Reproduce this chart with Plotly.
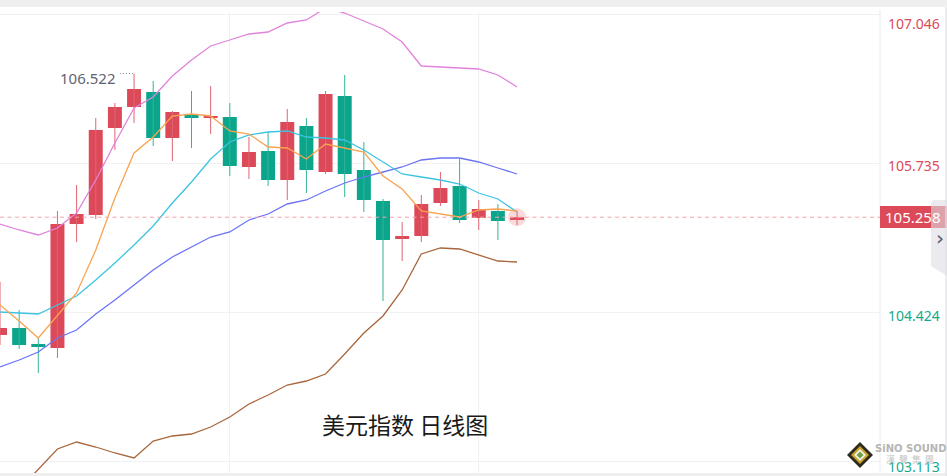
import plotly.graph_objects as go

# ---------------- data ----------------
idx = list(range(28))
open_ = [104.2216, 104.2832, 104.1424, 104.1072, 105.1983, 105.2775, 106.0430, 106.2277,
         106.3597, 105.9550, 106.1661, 106.1309, 106.1397, 105.6998, 105.8406, 105.5854,
         106.0606, 105.6558, 106.3245, 105.6734, 105.4007, 105.0663, 105.0927, 105.3831,
         105.5326, 105.2511, 105.3127, 105.2335]
high = [104.6880, 104.4416, 104.2040, 105.3127, 105.5414, 106.1309, 106.2629, 106.522,
        106.4565, 106.1925, 106.3685, 106.4125, 106.2629, 105.9638, 106.0078, 106.2101,
        106.1309, 106.3685, 106.5093, 105.9198, 105.4183, 105.2159, 105.4534, 105.6558,
        105.7702, 105.4095, 105.3743, 105.3127]
low = [104.1336, 104.0984, 103.8873, 104.0193, 105.0399, 105.2423, 105.8494, 106.0870,
       105.8846, 105.7526, 105.8670, 105.9902, 105.6206, 105.5942, 105.5326, 105.4095,
       105.4710, 105.6382, 105.4359, 105.3039, 104.5208, 104.8727, 105.0399, 105.3567,
       105.2071, 105.1455, 105.0575, 105.1895]
close = [104.2832, 104.1336, 104.1160, 105.1983, 105.2863, 106.0254, 106.2277, 106.3861,
         105.9550, 106.1837, 106.1309, 106.1485, 105.7086, 105.8318, 105.5854, 106.0958,
         105.6734, 106.3421, 105.6382, 105.4095, 105.0575, 105.0927, 105.3743, 105.5150,
         105.2335, 105.3303, 105.2247, 105.258]

ma5 = [104.4856, 104.3448, 104.1952, 104.3888, 104.5912, 104.9695, 105.4271, 105.8230,
       105.9638, 106.1485, 106.1661, 106.1485, 106.0166, 105.9902, 105.8758, 105.8670,
       105.7702, 105.9022, 105.8670, 105.8318, 105.6206, 105.5062, 105.3127, 105.2863,
       105.2599, 105.3215, 105.3303, 105.3127]
ma10 = [104.4240, 104.4152, 104.4064, 104.4856, 104.5648, 104.7056, 104.8551, 105.0135,
        105.1807, 105.3831, 105.5678, 105.7702, 105.9198, 105.9814, 106.0078, 106.0166,
        105.9638, 105.9550, 105.9374, 105.8494, 105.7438, 105.6382, 105.6118, 105.5854,
        105.5502, 105.4710, 105.4183, 105.3039]
boll_mid = [103.9401, 104.0017, 104.0720, 104.1952, 104.2656, 104.4064, 104.5296, 104.6616,
            104.7935, 104.9079, 104.9959, 105.0839, 105.1279, 105.2335, 105.2863, 105.3743,
            105.4095, 105.4886, 105.5590, 105.6118, 105.6558, 105.6998, 105.7614, 105.7790,
            105.7790, 105.7438, 105.6910, 105.6382]
boll_up = [105.1983, 105.1455, 105.1015, 105.1631, 105.2951, 105.5854, 105.9110, 106.2189,
           106.3157, 106.5005, 106.6413, 106.7645, 106.8172, 106.8700, 106.8876, 106.9668,
           106.9932, 107.0988, 107.0548, 106.9844, 106.9140, 106.7996, 106.5885, 106.5797,
           106.5709, 106.5621, 106.5093, 106.4037]
boll_low = [102.6819, 102.8578, 103.0426, 103.2186, 103.2802, 103.2362, 103.1834, 103.1394,
            103.2890, 103.3330, 103.3506, 103.4121, 103.5001, 103.6145, 103.6937, 103.7817,
            103.8169, 103.8785, 104.0545, 104.2392, 104.3888, 104.6176, 104.9343, 104.9871,
            104.9783, 104.9255, 104.8727, 104.8639]

tick_vals = [107.046, 105.735, 104.424, 103.113]
tick_text = ["107.046", "105.735", "104.424", "103.113"]
high_label = "106.522"
title_text = "美元指数 日线图"

# ---------------- styling ----------------
RED = "#DC4A59"
GREEN = "#0BA58C"
RED_WICK = "#E06470"
GREEN_WICK = "#33B49A"
W, H = 947, 476
PL, PR, PT, PB = 0, 67, 12, 3
PW = W - PL - PR          # 880
PH = H - PT - PB          # 461


def pxx(x):
    return (x - PL) / PW


def pxy(y):
    return (H - PB - y) / PH


fig = go.Figure()

# wicks
for col, wc in ((RED, RED_WICK), (GREEN, GREEN_WICK)):
    xs, ys = [], []
    for i in idx:
        up = close[i] >= open_[i]
        if (col == RED) == up:
            xs += [i, i, None]
            ys += [low[i], high[i], None]
    fig.add_trace(go.Scatter(x=xs, y=ys, mode="lines", line=dict(color=wc, width=1),
                             hoverinfo="skip", showlegend=False))

# bodies
fig.add_trace(go.Bar(
    x=idx,
    y=[abs(c - o) for o, c in zip(open_, close)],
    base=[min(o, c) for o, c in zip(open_, close)],
    width=0.73,
    marker=dict(color=[RED if c >= o else GREEN for o, c in zip(open_, close)],
                line=dict(width=0)),
    hoverinfo="skip", showlegend=False))

# glow on last candle
fig.add_trace(go.Scatter(x=[idx[-1]], y=[close[-1]], mode="markers",
                         marker=dict(size=18, color="rgba(230,90,100,0.22)"),
                         hoverinfo="skip", showlegend=False))

# indicator lines
for series, col in ((boll_up, "#E083DB"), (boll_low, "#A8663C"), (boll_mid, "#6B74F5"),
                    (ma10, "#3CC4E0"), (ma5, "#F9A350")):
    fig.add_trace(go.Scatter(x=idx, y=series, mode="lines",
                             line=dict(color=col, width=1.3),
                             hoverinfo="skip", showlegend=False))

ymin, ymax = 103.0074, 107.0636
spacing = 19.15

shapes = []
# top / bottom grey bands
shapes.append(dict(type="rect", xref="paper", yref="paper", x0=pxx(0), x1=pxx(W),
                   y0=pxy(7), y1=pxy(0), fillcolor="#EFEFEF", line=dict(width=0), layer="below"))
shapes.append(dict(type="rect", xref="paper", yref="paper", x0=pxx(0), x1=pxx(W),
                   y0=pxy(H), y1=pxy(H - 3), fillcolor="#EFEFEF", line=dict(width=0), layer="below"))
# right plot border
shapes.append(dict(type="line", xref="paper", yref="paper", x0=1, x1=1, y0=0, y1=pxy(10),
                   line=dict(color="#EAEAEA", width=1)))
# current price dashed line
shapes.append(dict(type="line", xref="paper", yref="y", x0=0, x1=1, y0=close[-1], y1=close[-1],
                   line=dict(color="#F2A3AC", width=1, dash="4px,3.5px")))
# high marker dotted line
shapes.append(dict(type="line", xref="paper", yref="y", x0=pxx(120), x1=pxx(133),
                   y0=high[7], y1=high[7], line=dict(color="#8A8F9C", width=1, dash="1px,2px")))
# current price box
shapes.append(dict(type="rect", xref="paper", yref="paper", x0=1, x1=pxx(W),
                   y0=pxy(228), y1=pxy(206), fillcolor=RED, line=dict(width=0)))
# side tab
shapes.append(dict(type="path", xref="paper", yref="paper",
                   path=f"M {pxx(933)},{pxy(200)} L {pxx(W)},{pxy(200)} L {pxx(W)},{pxy(276)} "
                        f"L {pxx(931)},{pxy(266)} L {pxx(931)},{pxy(203)} Z",
                   fillcolor="rgba(222,222,228,0.6)", line=dict(width=0)))
# right thin edge
shapes.append(dict(type="rect", xref="paper", yref="paper", x0=pxx(945), x1=pxx(W),
                   y0=pxy(H), y1=pxy(7), fillcolor="rgba(225,225,228,0.6)", line=dict(width=0)))
# logo diamond
cx, cy = 860, 455
for r, colr in ((13, "#2E2A1E"), (9, "#C9A22C"), (6, "#F3F1E6"), (3.5, "#6FA046")):
    shapes.append(dict(type="path", xref="paper", yref="paper",
                       path=f"M {pxx(cx)},{pxy(cy - r)} L {pxx(cx + r)},{pxy(cy)} "
                            f"L {pxx(cx)},{pxy(cy + r)} L {pxx(cx - r)},{pxy(cy)} Z",
                       fillcolor=colr, line=dict(width=0)))

annotations = []
for v, t in zip(tick_vals, tick_text):
    col = RED if v > close[-1] else "#14A98D"
    shift = {107.046: -9, 105.735: -2, 104.424: -3, 103.113: -5}[v]
    annotations.append(dict(xref="paper", yref="y", x=pxx(942), y=v, text=t, showarrow=False,
                            xanchor="right", yanchor="middle", yshift=shift,
                            font=dict(family="Noto Sans", size=14, color=col)))
annotations.append(dict(xref="paper", yref="paper", x=pxx(943), y=pxy(217),
                        text=f"{close[-1]:.3f}", showarrow=False, xanchor="right",
                        yanchor="middle", font=dict(family="Noto Sans", size=15, color="white")))
annotations.append(dict(xref="paper", yref="paper", x=pxx(940), y=pxy(238), text="›",
                        showarrow=False, xanchor="center", yanchor="middle",
                        font=dict(family="DejaVu Sans", size=20, color="#555B66")))
annotations.append(dict(xref="paper", yref="y", x=pxx(118), y=high[7], text=high_label,
                        showarrow=False, xanchor="right", yanchor="middle", yshift=-4,
                        font=dict(family="Noto Sans", size=15, color="#5F6473")))
annotations.append(dict(xref="paper", yref="paper", x=pxx(405), y=pxy(424), text=title_text,
                        showarrow=False, xanchor="center", yanchor="middle",
                        font=dict(family="Noto Sans CJK SC", size=23, color="#1A1A1A")))
annotations.append(dict(xref="paper", yref="paper", x=pxx(910), y=pxy(448), text="<b>SiNO SOUND</b>",
                        showarrow=False, xanchor="center", yanchor="middle",
                        font=dict(family="DejaVu Sans", size=10, color="#B5B5B5")))
annotations.append(dict(xref="paper", yref="paper", x=pxx(910), y=pxy(459), text="漢  聲  集  團",
                        showarrow=False, xanchor="center", yanchor="middle",
                        font=dict(family="Noto Sans CJK TC", size=9, color="#C4C4C4")))

fig.update_layout(
    width=W, height=H,
    margin=dict(l=PL, r=PR, t=PT, b=PB, pad=0),
    paper_bgcolor="white", plot_bgcolor="white",
    barmode="overlay",
    showlegend=False,
    xaxis=dict(range=[0, PW / spacing], showticklabels=False, ticks="",
               tickvals=[12, 25], showgrid=True, gridcolor="#F1F1F1", gridwidth=1,
               zeroline=False, showline=False, fixedrange=True),
    yaxis=dict(range=[ymin, ymax], showticklabels=False, ticks="",
               tickvals=tick_vals, showgrid=True, gridcolor="#F1F1F1", gridwidth=1,
               zeroline=False, showline=False, fixedrange=True),
    shapes=shapes,
    annotations=annotations,
)

fig.write_html("out.html", config={"displayModeBar": False},
               post_script="document.body.style.margin='0';document.body.style.overflow='hidden';")
